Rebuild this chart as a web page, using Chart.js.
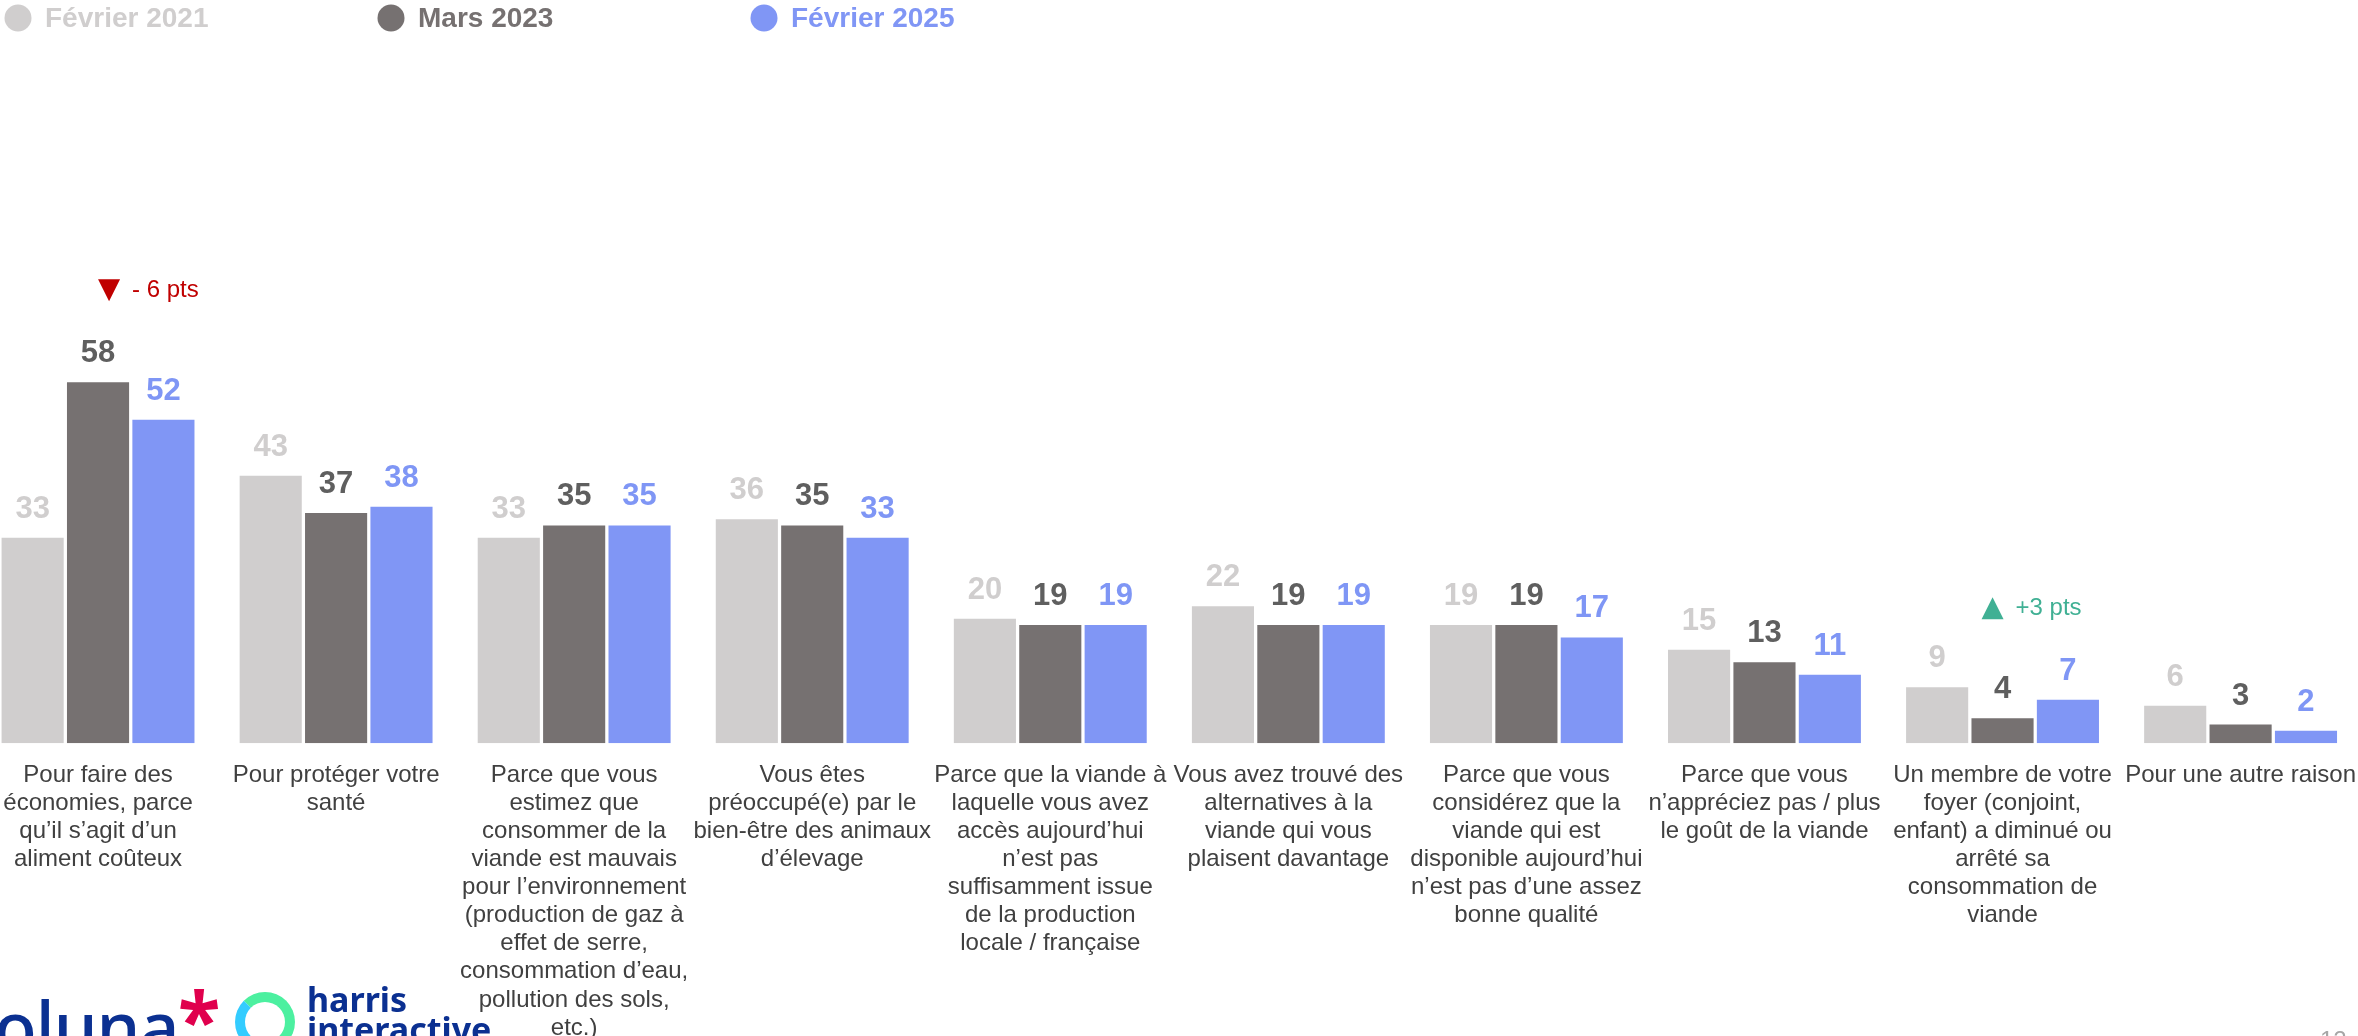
<!DOCTYPE html>
<html lang="fr">
<head>
<meta charset="utf-8">
<script src="https://cdn.jsdelivr.net/npm/chart.js@4.4.1/dist/chart.umd.min.js"></script>
<style>
    html, body { margin: 0; padding: 0; background: #fff; }
    body { width: 2358px; height: 1036px; overflow: hidden; position: relative; font-family: "Liberation Sans", Arial, sans-serif; }
    #chart { position: absolute; left: -21px; top: 0; }
    .logo-oluna { position: absolute; left: -6px; top: 978px; font-family: "Noto Sans", sans-serif; font-weight: 500; font-size: 70px; color: #0B3091; letter-spacing: -1px; }
    .logo-star { position: absolute; left: 178px; top: 980px; font-family: "Noto Sans", sans-serif; font-weight: 700; font-size: 78px; color: #E0004D; line-height: 1; }
    .logo-ring { position: absolute; left: 235px; top: 992px; width: 40px; height: 40px; border-radius: 50%; border: 10px solid #4CF0A0; border-left-color: #33CCFF; border-bottom-color: #5AA590; }
    .logo-harris { position: absolute; left: 307px; top: 984px; font-family: "Noto Sans", sans-serif; font-weight: 700; font-size: 34px; color: #0B3091; line-height: 30px; }
    .page-num { position: absolute; left: 2320px; top: 1026px; font-size: 24px; color: #A6A6A6; }
</style>
</head>
<body>
<canvas id="chart" width="2387" height="1100"></canvas>
<div class="logo-oluna">oluna</div>
<div class="logo-star">*</div>
<div class="logo-ring"></div>
<div class="logo-harris">harris<br>interactive</div>
<div class="page-num">12</div>
<script>
    const categories = [
        ["Pour faire des", "économies, parce", "qu’il s’agit d’un", "aliment coûteux"],
        ["Pour protéger votre", "santé"],
        ["Parce que vous", "estimez que", "consommer de la", "viande est mauvais", "pour l’environnement", "(production de gaz à", "effet de serre,", "consommation d’eau,", "pollution des sols,", "etc.)"],
        ["Vous êtes", "préoccupé(e) par le", "bien-être des animaux", "d’élevage"],
        ["Parce que la viande à", "laquelle vous avez", "accès aujourd’hui", "n’est pas", "suffisamment issue", "de la production", "locale / française"],
        ["Vous avez trouvé des", "alternatives à la", "viande qui vous", "plaisent davantage"],
        ["Parce que vous", "considérez que la", "viande qui est", "disponible aujourd’hui", "n’est pas d’une assez", "bonne qualité"],
        ["Parce que vous", "n’appréciez pas / plus", "le goût de la viande"],
        ["Un membre de votre", "foyer (conjoint,", "enfant) a diminué ou", "arrêté sa", "consommation de", "viande"],
        ["Pour une autre raison"]
    ];

    const fevrier2021 = [33, 43, 33, 36, 20, 22, 19, 15, 9, 6];
    const mars2023 = [58, 37, 35, 35, 19, 19, 19, 13, 4, 3];
    const fevrier2025 = [52, 38, 35, 33, 19, 19, 17, 11, 7, 2];

    const seriesLabels = ["Février 2021", "Mars 2023", "Février 2025"];
    const barColors = ["#D0CECE", "#767171", "#8096F5"];
    const valueColors = ["#D0CECE", "#5F5F5F", "#7F96F5"];

    // évolutions 2023 -> 2025
    const evolutionCategories = [0, 8];
    const evolutionTexts = ["- 6 pts", "+3 pts"];
    const evolutionUp = [false, true];

    const evolutionStyle = { dx: [11, -10], dy: [92, 79], colors: ["#C00000", "#40B094"] };

    const valueLabels = {
        id: 'valueLabels',
        afterDatasetsDraw(chart) {
            const ctx = chart.ctx;
            ctx.save();
            ctx.font = 'bold 31px "Liberation Sans", Arial, sans-serif';
            ctx.textAlign = 'center';
            ctx.textBaseline = 'alphabetic';
            chart.data.datasets.forEach((ds, i) => {
                chart.getDatasetMeta(i).data.forEach((bar, j) => {
                    ctx.fillStyle = valueColors[i];
                    ctx.fillText(ds.data[j], bar.x, bar.y - 20);
                });
            });
            ctx.restore();
        }
    };

    const evolutions = {
        id: 'evolutions',
        afterDatasetsDraw(chart) {
            const ctx = chart.ctx;
            const x = chart.scales.x, y = chart.scales.y;
            ctx.save();
            evolutionCategories.forEach((cat, k) => {
                const maxVal = Math.max(...chart.data.datasets.map(d => d.data[cat]));
                const cx = x.getPixelForValue(cat) + evolutionStyle.dx[k];
                const cy = y.getPixelForValue(maxVal) - evolutionStyle.dy[k];
                ctx.fillStyle = evolutionStyle.colors[k];
                ctx.beginPath();
                if (evolutionUp[k]) {
                    ctx.moveTo(cx - 11, cy + 11);
                    ctx.lineTo(cx + 11, cy + 11);
                    ctx.lineTo(cx, cy - 11);
                } else {
                    ctx.moveTo(cx - 11, cy - 11);
                    ctx.lineTo(cx + 11, cy - 11);
                    ctx.lineTo(cx, cy + 11);
                }
                ctx.closePath();
                ctx.fill();
                ctx.font = '24px "Liberation Sans", Arial, sans-serif';
                ctx.textAlign = 'left';
                ctx.textBaseline = 'middle';
                ctx.fillText(evolutionTexts[k], cx + 23, cy);
            });
            ctx.restore();
        }
    };

    const topLegend = {
        id: 'topLegend',
        afterDraw(chart) {
            const ctx = chart.ctx;
            ctx.save();
            ctx.font = 'bold 28px "Liberation Sans", Arial, sans-serif';
            ctx.textBaseline = 'middle';
            ctx.textAlign = 'left';
            chart.data.datasets.forEach((ds, i) => {
                const cx = 39 + i * 373;
                ctx.fillStyle = ds.backgroundColor;
                ctx.beginPath();
                ctx.arc(cx, 18, 13.5, 0, Math.PI * 2);
                ctx.fill();
                ctx.fillText(ds.label, cx + 27, 19);
            });
            ctx.restore();
        }
    };

    const datasets = [fevrier2021, mars2023, fevrier2025].map((values, i) => ({
        label: seriesLabels[i],
        data: values,
        backgroundColor: barColors[i],
        categoryPercentage: 0.824,
        barPercentage: 0.95
    }));

    const chart = new Chart(document.getElementById('chart'), {
        type: 'bar',
        data: { labels: categories, datasets: datasets },
        options: {
            responsive: false,
            animation: false,
            layout: { padding: { top: 121, bottom: 48, left: 0, right: 0 } },
            plugins: { legend: { display: false }, tooltip: { enabled: false } },
            scales: {
                x: {
                    grid: { display: false },
                    border: { display: false },
                    ticks: {
                        autoSkip: false,
                        maxRotation: 0,
                        minRotation: 0,
                        padding: 10,
                        color: '#404040',
                        font: { family: '"Liberation Sans", Arial, sans-serif', size: 24, lineHeight: 1.17 }
                    }
                },
                y: { display: false, min: 0, max: 100 }
            }
        },
        plugins: [valueLabels, evolutions, topLegend]
    });
</script>
</body>
</html>
